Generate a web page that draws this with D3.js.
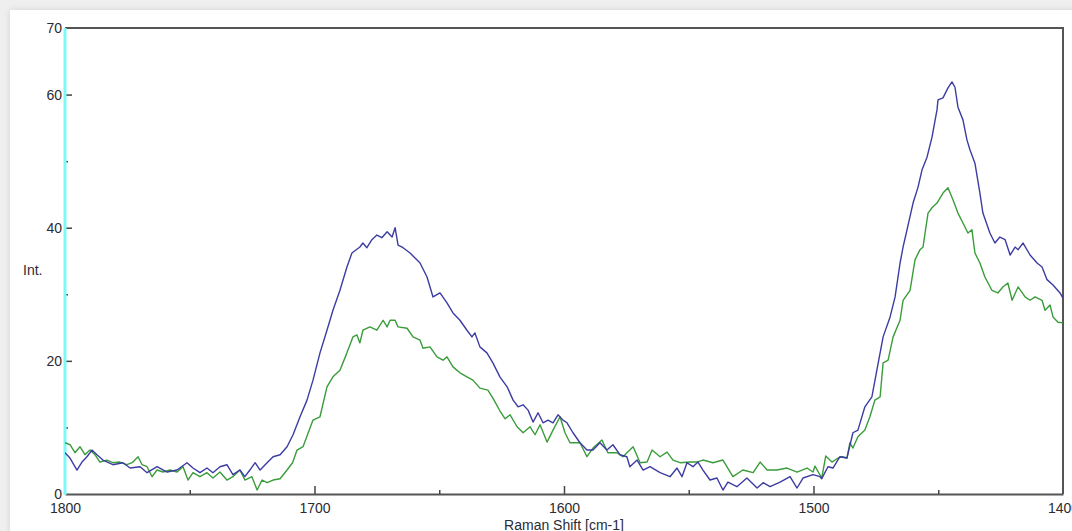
<!DOCTYPE html>
<html>
<head>
<meta charset="utf-8">
<script src="https://cdn.jsdelivr.net/npm/d3@7/dist/d3.min.js"></script>
<style>
  html, body { margin: 0; padding: 0; background: #efefef; }
  svg { display: block; }
  text { font-family: "Liberation Sans", Arial, sans-serif; fill: #2b2b33; }
</style>
</head>
<body>
<svg id="chart" width="1072" height="531"></svg>
<script>
// Raman spectra: [shift (cm-1), intensity]
const blueSpectrum = [
  [1800,6.2],[1798,5.4],[1795.2,3.6],[1793.2,4.8],[1791.2,5.6],[1789.2,6.6],[1787.2,5.9],[1784.8,5.1],
  [1780.8,4.4],[1776.8,4.7],[1773.9,3.9],[1769.9,4.1],[1767.1,3.2],[1763.1,4.1],[1759.1,3.3],[1755.1,3.6],
  [1751.1,4.7],[1748.7,3.9],[1745.9,3.2],[1743.1,3.9],[1740.7,3.2],[1737.9,4.1],[1735.1,4.4],[1732.7,2.9],
  [1729.9,3.6],[1727.9,2.6],[1725.9,3.6],[1723.8,4.7],[1721.8,3.6],[1719,4.7],[1716.6,5.6],[1713.8,5.9],
  [1711,7.1],[1708.6,8.9],[1705.8,11.6],[1703,14.1],[1700.6,17.1],[1697.8,21.2],[1695,24.6],[1692.6,27.6],
  [1689.8,30.6],[1687,34.1],[1685,36.2],[1681.8,37.1],[1680.6,37.7],[1679,37],[1677,38.2],[1675,38.9],
  [1673,38.5],[1670.9,39.4],[1668.9,38.6],[1667.7,40],[1666.5,37.4],[1664.5,37],[1661.7,36.2],[1657.7,34.7],
  [1654.9,32.6],[1652.5,29.6],[1649.7,30.2],[1646.9,28.7],[1644.5,27.2],[1641.7,26.1],[1638.9,24.6],[1636.9,23.6],
  [1635.7,24.2],[1633.7,22.1],[1630.9,21.2],[1628.5,19.7],[1625.7,17.6],[1622.8,16.1],[1620.4,14.1],[1618.4,13.1],
  [1616.4,13.4],[1614.4,12.6],[1612.4,10.8],[1610.4,12.2],[1608.4,10.7],[1606.4,11.1],[1604.4,10.7],[1602.4,11.9],
  [1600.4,11.1],[1598.8,10.7],[1596.4,9.2],[1593.6,7.7],[1590.8,6.6],[1588.4,6.6],[1585.6,7.7],[1582.8,6.6],
  [1580.4,7.4],[1577.6,5.9],[1574.8,5.6],[1573.6,4.1],[1570.7,5.1],[1568.3,3.6],[1565.5,4.1],[1561.5,3.2],
  [1557.5,2.6],[1554.7,3.9],[1552.7,2.6],[1550.7,4.7],[1548.3,4.1],[1546.3,4.8],[1544.3,3.6],[1541.5,2.1],
  [1538.7,2.4],[1536.3,0.6],[1534.3,1.8],[1530.7,1.1],[1526.7,2.4],[1522.6,0.9],[1520.2,1.7],[1517.4,1.1],
  [1513.4,1.8],[1509.4,2.6],[1506.6,0.9],[1504.2,2.4],[1500.2,2.9],[1497.4,2.6],[1496.7,2.3],[1494.2,4.1],
  [1492.2,3.9],[1489.4,5.6],[1486.6,5.4],[1484.2,9.2],[1482.2,9.6],[1479.4,13.1],[1476.6,14.6],[1474.6,18.6],
  [1472.1,23.6],[1469.3,26.6],[1467.3,29.6],[1465.3,34.7],[1464.1,37.1],[1462.5,39.7],[1460.1,43.7],[1458.1,46.1],
  [1456.5,48.7],[1454.5,50.6],[1452.5,53.6],[1450.5,57.7],[1450.1,59.2],[1448.1,59.5],[1446.1,61],[1444.5,61.9],
  [1443.3,61.1],[1442.1,58.1],[1440.1,56.2],[1438.5,53.2],[1437.3,51.7],[1435.3,49.7],[1433.3,45.2],[1432.1,42.2],
  [1429.3,39.2],[1427.3,37.7],[1425.3,38.6],[1423.2,38.2],[1421.2,35.9],[1419.2,37.1],[1418,36.7],[1416,37.7],
  [1413.2,35.9],[1410.4,34.7],[1408.4,34.1],[1406.4,32.2],[1404,31.4],[1401.2,30.2],[1400,29.4]
];

const greenSpectrum = [
  [1800,7.7],[1798,7.4],[1796,6.2],[1794,7.1],[1792,5.9],[1790,6.6],[1788,5.9],[1786,4.8],
  [1783.2,5.1],[1780.8,4.7],[1778,4.8],[1775.2,4.4],[1773.1,4.7],[1770.7,5.6],[1769.1,4.4],[1767.1,4.1],
  [1765.1,2.6],[1763.1,3.6],[1760.7,3.3],[1757.9,3.6],[1755.1,3.3],[1752.7,4.1],[1750.7,2.1],[1748.7,3.2],
  [1745.9,2.6],[1743.1,3.2],[1740.7,2.4],[1737.9,3.3],[1735.1,2.1],[1732.7,2.6],[1729.9,3.6],[1727.9,2.1],
  [1725.1,2.6],[1723,0.6],[1721,2.1],[1719,1.7],[1716.6,2.1],[1713.8,2.3],[1711,3.6],[1708.8,4.7],
  [1707,6.6],[1704.6,7.1],[1700.6,11.1],[1697.8,11.6],[1695,16.1],[1692.6,17.6],[1689.8,18.6],[1687,21.2],
  [1684.6,23.6],[1683,23.9],[1681.8,22.7],[1680.6,24.6],[1677.8,25.1],[1675,24.6],[1672.5,26.1],[1670.9,25.1],
  [1669.7,26.1],[1667.7,26.1],[1666.5,25.1],[1662.9,24.9],[1660.5,23.6],[1657.7,23.1],[1656.5,21.9],[1653.7,22.1],
  [1650.9,20.6],[1648.5,20.1],[1646.9,20.6],[1644.5,19.1],[1641.7,18.2],[1638.9,17.6],[1636.5,17.1],[1633.7,15.9],
  [1630.5,15.6],[1628.5,14.4],[1625.7,12.5],[1623.6,11.3],[1621.6,11.9],[1618.8,10.1],[1616.4,9.2],[1613.6,10.1],
  [1611.6,8.9],[1609.6,10.4],[1606.8,7.8],[1604.4,9.6],[1601.6,11.6],[1599.6,9.2],[1597.6,7.7],[1593.6,7.7],
  [1590.8,5.6],[1588.4,6.9],[1584.8,8.1],[1582.4,6.2],[1578.8,6.2],[1576.4,5.6],[1572.3,7.1],[1569.5,4.7],
  [1566.7,4.8],[1564.7,6.6],[1561.5,5.6],[1558.7,6.3],[1556.3,5.1],[1553.5,4.7],[1549.5,4.8],[1546.7,4.8],
  [1544.3,5.1],[1540.3,4.7],[1536.3,5.1],[1532.3,2.6],[1528.3,3.6],[1524.2,3.2],[1521.4,4.8],[1518.6,3.6],
  [1514.6,3.6],[1510.6,3.9],[1506.6,3.3],[1502.6,3.9],[1500.2,3.3],[1499.4,4.2],[1496.7,2.4],[1495.1,5.7],
  [1492.6,4.8],[1490.6,5.3],[1488.6,5.6],[1486.6,5.4],[1485.4,7.7],[1484.2,6.9],[1482.2,8.6],[1479.4,9.6],
  [1477.4,11.6],[1475.4,14.1],[1473.3,14.6],[1472.1,19.7],[1470.1,20.1],[1468.1,23.6],[1465.3,26.1],[1464.1,29.1],
  [1461.3,30.6],[1459.3,35.2],[1457.3,36.7],[1456.1,37.1],[1454.1,42.2],[1452.5,43],[1450.5,43.7],[1448.1,45.2],
  [1446.1,46],[1444.1,44.2],[1442.1,42.2],[1440.1,40.7],[1438.1,39.2],[1436.5,39.7],[1435.3,36.2],[1433.3,34.7],
  [1431.3,32.6],[1428.5,30.6],[1426.1,30.2],[1424.1,31.1],[1422.1,31.7],[1420.4,29.1],[1418,31.1],[1415.2,29.6],
  [1413.2,29.1],[1411.2,29.6],[1408.4,29.1],[1407.2,27.6],[1405.2,28.4],[1404,26.6],[1402,25.8],[1400,25.7]
];

const xMajorTicks = [1800, 1700, 1600, 1500, 1400];
const xMinorTicks = [1750, 1650, 1550, 1450];
const yMajorTicks = [0, 20, 40, 60, 70];
const yMinorTicks = [10, 30, 50];

const svg = d3.select("#chart");
const W = 1072, H = 531;
const plot = { left: 65, right: 1063, top: 28, bottom: 494 };
const fontSize = "14px";

// page card with a soft shadow
const defs = svg.append("defs");
const shadow = defs.append("filter").attr("id", "cardShadow")
  .attr("x", "-5%").attr("y", "-5%").attr("width", "110%").attr("height", "110%");
shadow.append("feDropShadow").attr("dx", 0).attr("dy", 0)
  .attr("stdDeviation", 3).attr("flood-color", "#000").attr("flood-opacity", 0.12);
defs.append("clipPath").attr("id", "plotClip").append("rect")
  .attr("x", plot.left).attr("y", plot.top)
  .attr("width", plot.right - plot.left).attr("height", plot.bottom - plot.top);

svg.append("rect").attr("width", W).attr("height", H).attr("fill", "#efefef");
svg.append("rect").attr("x", 10).attr("y", 10).attr("width", W).attr("height", H)
  .attr("fill", "#fff").attr("filter", "url(#cardShadow)");

const x = d3.scaleLinear().domain([1800, 1400]).range([plot.left, plot.right]);
const y = d3.scaleLinear().domain([0, 70]).range([plot.bottom, plot.top]);

// frame: top and right borders
svg.append("path")
  .attr("d", `M${plot.left},${plot.top}H${plot.right}V${plot.bottom}`)
  .attr("fill", "none").attr("stroke", "#555").attr("stroke-width", 2);

// bottom axis with inward ticks
const xAxis = svg.append("g").attr("transform", `translate(0,${plot.bottom})`)
  .call(d3.axisBottom(x).tickValues(xMajorTicks).tickSizeInner(-8).tickSizeOuter(0)
    .tickPadding(16).tickFormat(d3.format("d")));
xAxis.select(".domain").attr("stroke", "#555").attr("stroke-width", 2);
xAxis.selectAll(".tick line").attr("stroke", "#444").attr("stroke-width", 1.5);
xAxis.selectAll(".tick text").attr("fill", null).style("font-size", fontSize)
  .attr("font-family", null).attr("dy", "0.35em").attr("y", 14);
xAxis.selectAll(".tick").filter(d => d === 1800 || d === 1400).select("line").remove();

const xMinor = svg.append("g").attr("transform", `translate(0,${plot.bottom})`)
  .call(d3.axisBottom(x).tickValues(xMinorTicks).tickSizeInner(-4).tickSizeOuter(0).tickFormat(""));
xMinor.select(".domain").remove();
xMinor.selectAll(".tick line").attr("stroke", "#444").attr("stroke-width", 1.5);

// left axis: ticks point into the plot
const yAxis = svg.append("g").attr("transform", `translate(${plot.left},0)`)
  .call(d3.axisLeft(y).tickValues(yMajorTicks).tickSizeInner(-7).tickSizeOuter(0)
    .tickPadding(10).tickFormat(d3.format("d")));
yAxis.select(".domain").remove();
yAxis.selectAll(".tick line").attr("stroke", "#444").attr("stroke-width", 1.5);
yAxis.selectAll(".tick").filter(d => d === 0 || d === 70).select("line").remove();
yAxis.selectAll(".tick text").attr("fill", null).style("font-size", fontSize)
  .attr("font-family", null).attr("x", -3);

const yMinor = svg.append("g").attr("transform", `translate(${plot.left},0)`)
  .call(d3.axisLeft(y).tickValues(yMinorTicks).tickSizeInner(-3).tickSizeOuter(0).tickFormat(""));
yMinor.select(".domain").remove();
yMinor.selectAll(".tick line").attr("stroke", "#444").attr("stroke-width", 1.5);

// cyan intensity axis line
svg.append("line")
  .attr("x1", plot.left).attr("x2", plot.left)
  .attr("y1", plot.top).attr("y2", plot.bottom + 1)
  .attr("stroke", "#7ff8f8").attr("stroke-width", 3);

// axis titles
svg.append("text").attr("x", 23).attr("y", 270).attr("dy", "0.35em")
  .style("font-size", fontSize).text("Int.");
svg.append("text").attr("x", x(1600)).attr("y", 525).attr("dy", "0.35em")
  .attr("text-anchor", "middle").style("font-size", fontSize).text("Raman Shift [cm-1]");

// spectra
const line = d3.line().x(d => x(d[0])).y(d => y(d[1]));
const traces = svg.append("g").attr("clip-path", "url(#plotClip)");
traces.append("path").datum(greenSpectrum).attr("d", line)
  .attr("fill", "none").attr("stroke", "#3a9c3a").attr("stroke-width", 1.4)
  .attr("stroke-linejoin", "round");
traces.append("path").datum(blueSpectrum).attr("d", line)
  .attr("fill", "none").attr("stroke", "#3c3ca2").attr("stroke-width", 1.4)
  .attr("stroke-linejoin", "round");
</script>
</body>
</html>
